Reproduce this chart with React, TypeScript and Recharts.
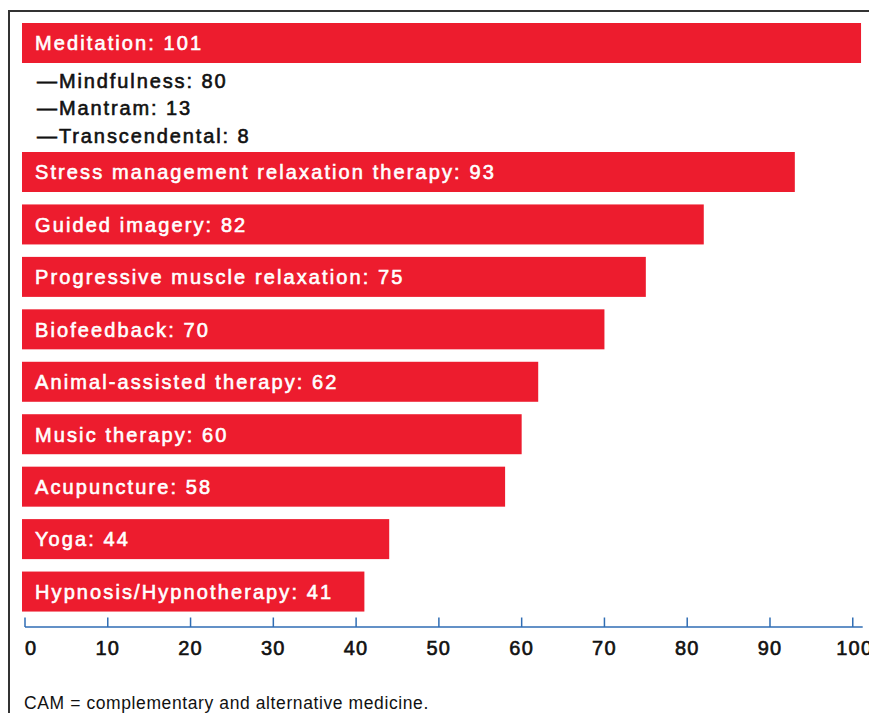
import { BarChart, Bar, XAxis, YAxis, LabelList } from "recharts";

// top item, shown on its own with its breakdown underneath
const topCategory = "Meditation";
const topValue = 101;
const subCategories = ["Mindfulness", "Mantram", "Transcendental"];
const subValues = [80, 13, 8];

const categories = [
  "Stress management relaxation therapy",
  "Guided imagery",
  "Progressive muscle relaxation",
  "Biofeedback",
  "Animal-assisted therapy",
  "Music therapy",
  "Acupuncture",
  "Yoga",
  "Hypnosis/Hypnotherapy",
];
const values = [93, 82, 75, 70, 62, 60, 58, 44, 41];

const xTicks = [0, 10, 20, 30, 40, 50, 60, 70, 80, 90, 100];
const footnote = "CAM = complementary and alternative medicine.";

const RED = "#ed1c2e";
const BLUE = "#2f6db4";
const INK = "#111";
const FONT = "'Liberation Sans', Arial, Helvetica, sans-serif";

const topData = [{ name: topCategory, value: topValue, label: `${topCategory}: ${topValue}` }];
const mainData = categories.map((name, i) => ({
  name,
  value: values[i],
  label: `${name}: ${values[i]}`,
}));

const W = 869;
const margin = { left: 17, right: 14.3 };
const domain: [number, number] = [0, 101.2];

// medium-ish weight: regular face with a thin outline of the same colour
const textStyle = (color: string, spacing = 2.1) => ({
  fill: color,
  stroke: color,
  strokeWidth: 0.6,
  paintOrder: "stroke" as const,
  fontFamily: FONT,
  fontSize: 20,
  letterSpacing: spacing,
});

const BarShape = (props: any) => {
  const { x, y, width, height } = props;
  return <rect x={x - 3} y={y} width={width + 3} height={height} fill={RED} />;
};

const renderLabel = (props: any) => {
  const { x, y, height, value } = props;
  return (
    <text x={x + 10} y={y + height / 2 + 7.3} style={textStyle("#fff")}>
      {value}
    </text>
  );
};

const Tick = (props: any) => {
  const { x, y, payload } = props;
  const v = payload.value;
  return (
    <g>
      <line x1={x} x2={x} y1={y} y2={y - 9.5} stroke={BLUE} strokeWidth={1.5} />
      <text
        x={v === 100 ? x + 2 : x}
        y={y + 28}
        textAnchor={v === 0 ? "start" : "middle"}
        style={textStyle(INK, 1.2)}
      >
        {v}
      </text>
    </g>
  );
};

export default function App() {
  return (
    <div style={{ position: "relative", width: W, height: 705, overflow: "hidden", background: "#fff" }}>
      <div
        style={{
          position: "absolute",
          left: 0,
          top: 2,
          width: 900,
          height: 800,
          borderTop: "2px solid #333",
          borderLeft: "2px solid #333",
        }}
      />

      <div style={{ position: "absolute", left: 0, top: 5 }}>
        <BarChart
          width={W}
          height={60}
          layout="vertical"
          data={topData}
          margin={{ top: 0, bottom: 0, ...margin }}
        >
          <XAxis type="number" domain={domain} hide />
          <YAxis type="category" dataKey="name" hide />
          <Bar dataKey="value" barSize={40} shape={<BarShape />} isAnimationActive={false}>
            <LabelList dataKey="label" content={renderLabel} />
          </Bar>
        </BarChart>
      </div>

      <svg
        width={W}
        height={705}
        style={{ position: "absolute", left: 0, top: 0, pointerEvents: "none" }}
      >
        {subCategories.map((s, i) => (
          <text key={s} x={29} y={79.5 + i * 27.7} style={textStyle(INK, 1.9)}>
            {`—${s}: ${subValues[i]}`}
          </text>
        ))}
        <text x={16} y={701} fill={INK} fontFamily={FONT} fontSize={17.5} letterSpacing={0.6}>
          {footnote}
        </text>
      </svg>

      <div style={{ position: "absolute", left: 0, top: 130 }}>
        <BarChart
          width={W}
          height={529}
          layout="vertical"
          data={mainData}
          margin={{ top: 8, bottom: 0, ...margin }}
        >
          <XAxis
            type="number"
            domain={domain}
            ticks={xTicks}
            interval={0}
            height={40}
            tickSize={0}
            tickMargin={0}
            tickLine={false}
            axisLine={{ stroke: BLUE, strokeWidth: 1.5 }}
            tick={<Tick />}
          />
          <YAxis type="category" dataKey="name" hide padding={{ top: 0, bottom: 9 }} />
          <Bar dataKey="value" barSize={40} shape={<BarShape />} isAnimationActive={false}>
            <LabelList dataKey="label" content={renderLabel} />
          </Bar>
        </BarChart>
      </div>
    </div>
  );
}
